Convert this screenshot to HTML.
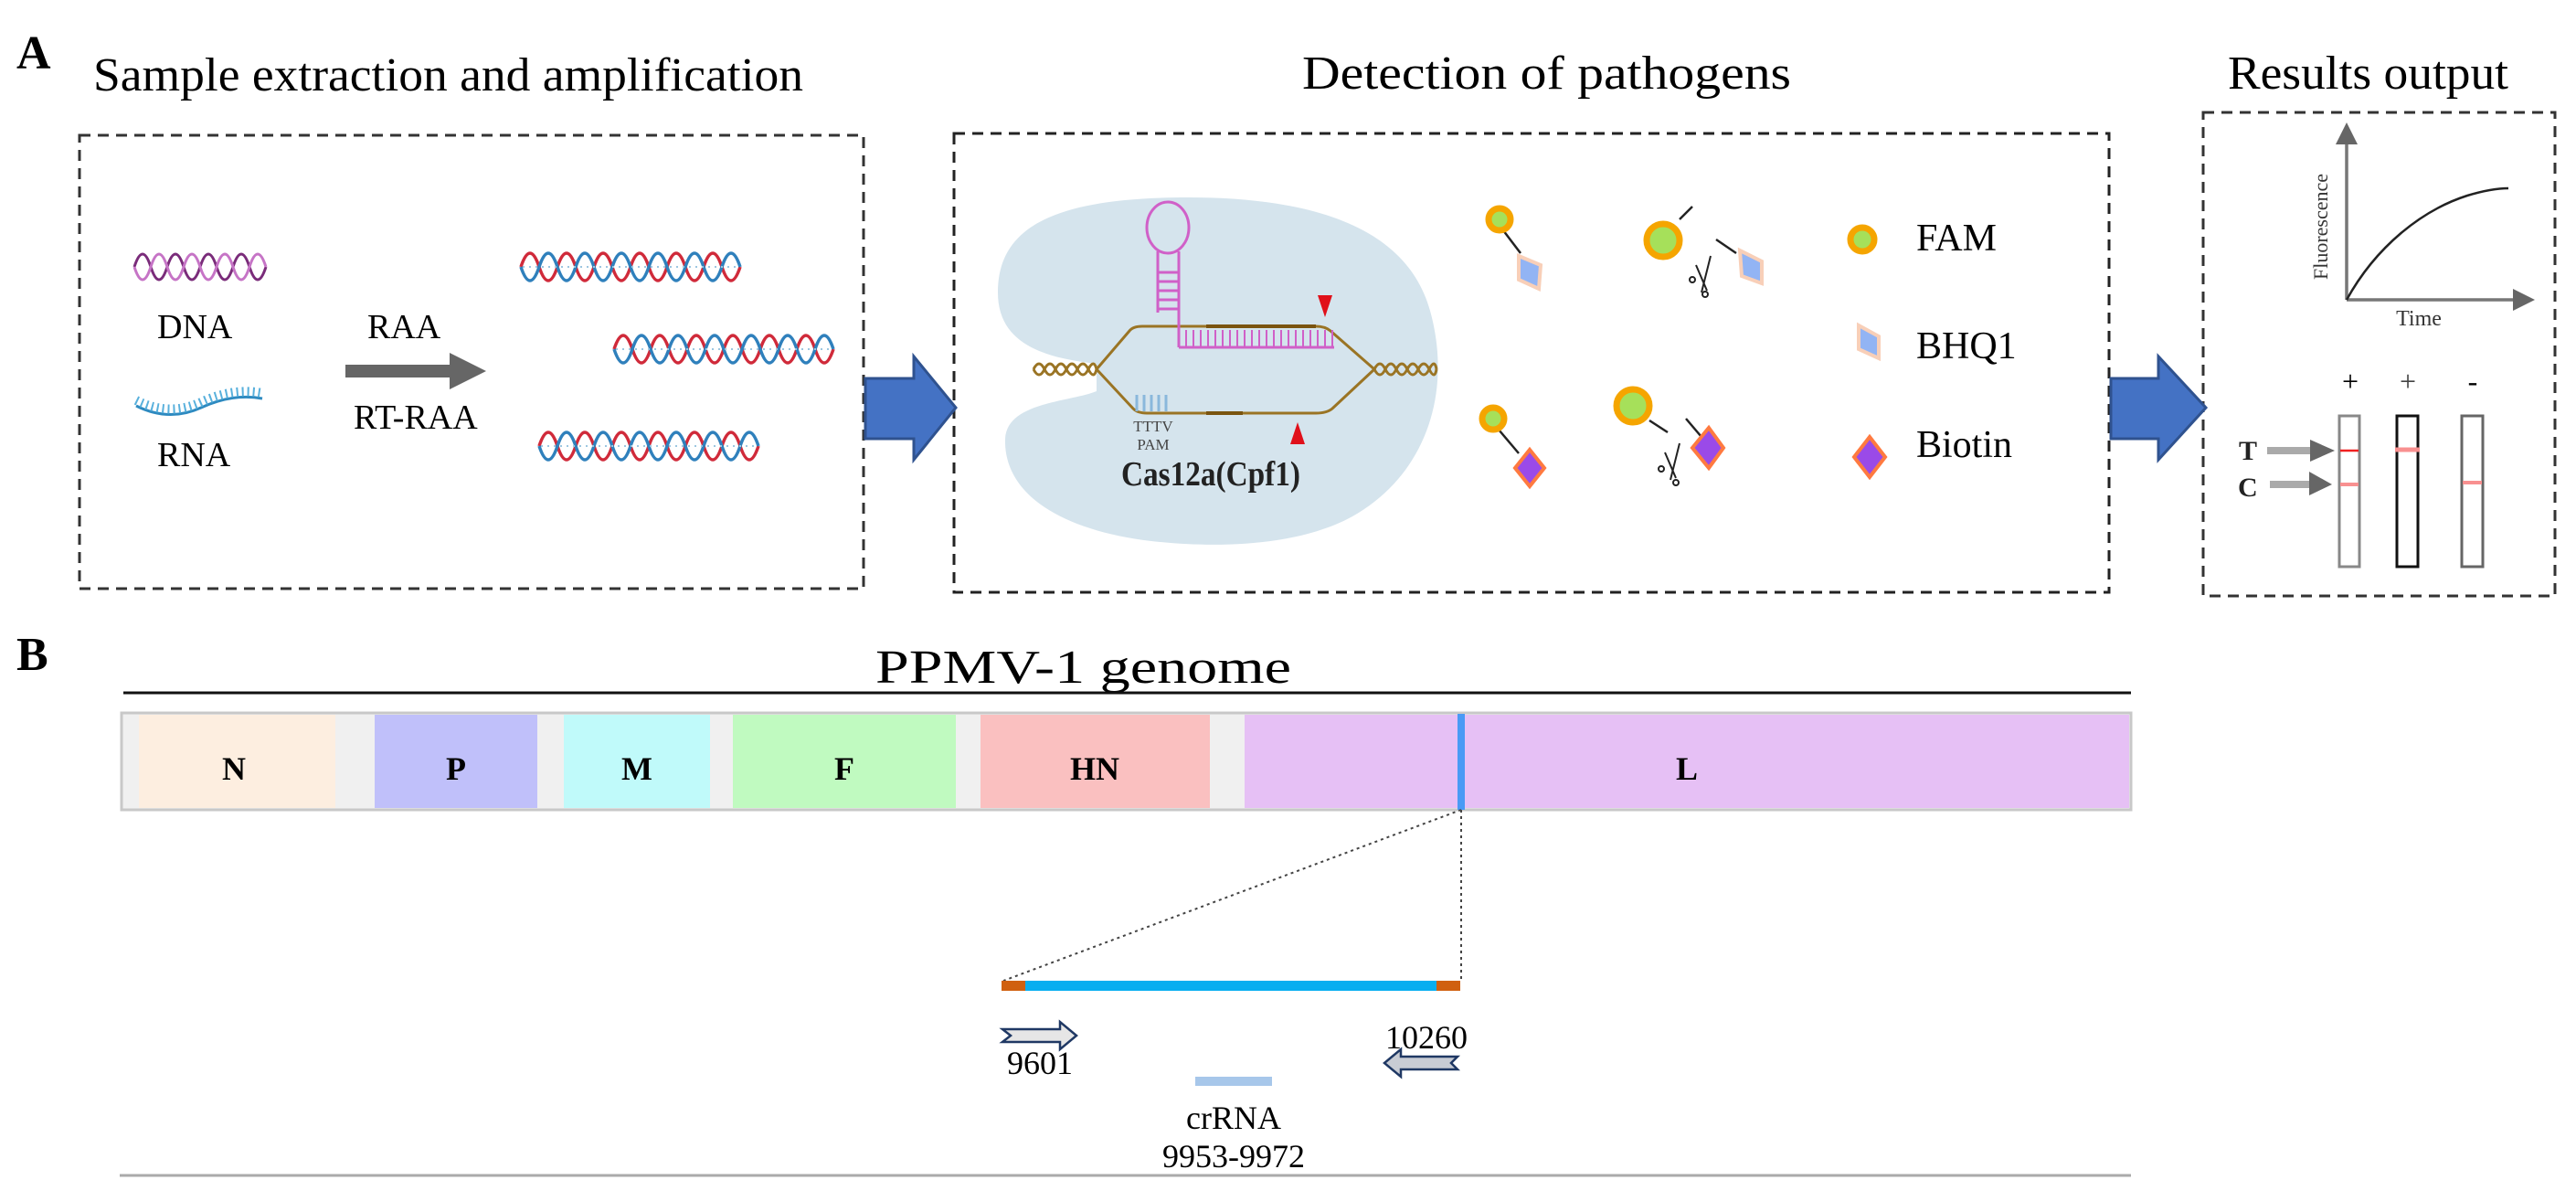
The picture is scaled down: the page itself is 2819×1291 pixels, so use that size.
<!DOCTYPE html>
<html><head><meta charset="utf-8"><style>html,body{margin:0;padding:0;background:#fff;overflow:hidden}svg{display:block}</style></head>
<body>
<svg width="2819" height="1291" viewBox="0 0 2819 1291" xmlns="http://www.w3.org/2000/svg" font-family="'Liberation Serif', serif">
<!-- Titles -->
<text x="18" y="75" font-size="52" font-weight="bold">A</text>
<text x="102" y="99" font-size="52" textLength="777" lengthAdjust="spacingAndGlyphs">Sample extraction and amplification</text>
<text x="1425" y="97" font-size="52" textLength="535" lengthAdjust="spacingAndGlyphs">Detection of pathogens</text>
<text x="2438" y="97" font-size="52" textLength="307" lengthAdjust="spacingAndGlyphs">Results output</text>

<!-- Boxes -->
<rect x="87" y="148" width="858" height="496" fill="none" stroke="#333" stroke-width="3" stroke-dasharray="12,8"/>
<rect x="1044" y="146" width="1264" height="502" fill="none" stroke="#222" stroke-width="3" stroke-dasharray="12,8"/>
<rect x="2411" y="123" width="385" height="529" fill="none" stroke="#333" stroke-width="3" stroke-dasharray="12,8"/>

<!-- Box1 content -->
<g fill="none" stroke-width="3">
  <path d="M147,292 q9,-28 18,0 t18,0 t18,0 t18,0 t18,0 t18,0 t18,0 t18,0" stroke="#7a2c7a"/>
  <path d="M147,292 q9,28 18,0 t18,0 t18,0 t18,0 t18,0 t18,0 t18,0 t18,0" stroke="#c674c6"/>
</g>
<path d="M149,444 Q185,462 220,446 T287,436" fill="none" stroke="#2e8ac0" stroke-width="3"/>
<path d="M149,438 Q185,456 220,440 T287,430" fill="none" stroke="#58b0dc" stroke-width="10" stroke-dasharray="2,4"/>
<text x="172" y="370" font-size="38">DNA</text>
<text x="172" y="510" font-size="38">RNA</text>
<text x="402" y="370" font-size="38">RAA</text>
<text x="387" y="469" font-size="38">RT-RAA</text>
<path d="M378,399 L492,399 L492,386 L532,406 L492,426 L492,413 L378,413 Z" fill="#666"/>
<g fill="none" stroke-width="3.5">
  <path d="M570,292 q10,-30 20,0 t20,0 t20,0 t20,0 t20,0 t20,0 t20,0 t20,0 t20,0 t20,0 t20,0 t20,0" stroke="#d02a3a"/>
  <path d="M570,292 q10,30 20,0 t20,0 t20,0 t20,0 t20,0 t20,0 t20,0 t20,0 t20,0 t20,0 t20,0 t20,0" stroke="#2f80bc"/>
  <path d="M672,382 q10,-30 20,0 t20,0 t20,0 t20,0 t20,0 t20,0 t20,0 t20,0 t20,0 t20,0 t20,0 t20,0" stroke="#d02a3a"/>
  <path d="M672,382 q10,30 20,0 t20,0 t20,0 t20,0 t20,0 t20,0 t20,0 t20,0 t20,0 t20,0 t20,0 t20,0" stroke="#2f80bc"/>
  <path d="M590,488 q10,-30 20,0 t20,0 t20,0 t20,0 t20,0 t20,0 t20,0 t20,0 t20,0 t20,0 t20,0 t20,0" stroke="#d02a3a"/>
  <path d="M590,488 q10,30 20,0 t20,0 t20,0 t20,0 t20,0 t20,0 t20,0 t20,0 t20,0 t20,0 t20,0 t20,0" stroke="#2f80bc"/>
</g>
<g stroke="#9cc6e0" stroke-width="2" stroke-dasharray="2,5">
  <line x1="572" y1="292" x2="808" y2="292"/><line x1="674" y1="382" x2="910" y2="382"/><line x1="592" y1="488" x2="828" y2="488"/>
</g>

<!-- Blue block arrows -->
<path d="M947,414 L1000,414 L1000,390 L1046,446 L1000,503 L1000,480 L947,480 Z" fill="#4472c4" stroke="#2f528f" stroke-width="3"/>
<path d="M2310,414 L2362,414 L2362,390 L2414,446 L2362,503 L2362,480 L2310,480 Z" fill="#4472c4" stroke="#2f528f" stroke-width="3"/>

<!-- Cas12a -->
<path d="M1200,398 C1150,392 1092,380 1092,320 C1092,250 1150,216 1300,216 C1440,216 1540,250 1565,340 C1590,430 1560,520 1480,565 C1420,598 1330,600 1260,592 C1160,580 1098,540 1100,480 C1102,440 1170,440 1200,428 Z" fill="#d5e4ed"/>
<g fill="none" stroke="#9a7424" stroke-width="3">
  <path d="M1200,404 L1236,362 Q1240,357 1250,357 L1440,357 Q1450,357 1456,362 L1504,404"/>
  <path d="M1200,404 L1240,447 Q1245,452 1255,452 L1440,452 Q1452,452 1458,447 L1504,404"/>
  <path d="M1131,404 q6,-12 12,0 t12,0 t12,0 t12,0 t12,0 t9,0"/>
  <path d="M1131,404 q6,12 12,0 t12,0 t12,0 t12,0 t12,0 t9,0"/>
  <path d="M1504,404 q6,-12 12,0 t12,0 t12,0 t12,0 t12,0 t8,0"/>
  <path d="M1504,404 q6,12 12,0 t12,0 t12,0 t12,0 t12,0 t8,0"/>
</g>
<line x1="1320" y1="357" x2="1440" y2="357" stroke="#7a5410" stroke-width="4"/>
<line x1="1320" y1="452" x2="1360" y2="452" stroke="#7a5410" stroke-width="4"/>
<g stroke="#d060c8" stroke-width="3" fill="none">
  <ellipse cx="1278" cy="249" rx="23" ry="28"/>
  <line x1="1267" y1="275" x2="1267" y2="342"/>
  <line x1="1290" y1="275" x2="1290" y2="380"/>
  <line x1="1290" y1="380" x2="1460" y2="380"/>
  <path d="M1267,298 H1290 M1267,308 H1290 M1267,318 H1290 M1267,328 H1290 M1267,338 H1290"/>
  <path d="M1298,361V380 M1306,361V380 M1314,361V380 M1322,361V380 M1330,361V380 M1338,361V380 M1346,361V380 M1354,361V380 M1362,361V380 M1370,361V380 M1378,361V380 M1386,361V380 M1394,361V380 M1402,361V380 M1410,361V380 M1418,361V380 M1426,361V380 M1434,361V380 M1442,361V380 M1450,361V380 M1458,361V380" stroke-width="2"/>
</g>
<path d="M1244,432V450 M1252,432V450 M1260,432V450 M1268,432V450 M1276,432V450" stroke="#8ab8dc" stroke-width="3"/>
<text x="1262" y="472" font-size="17" text-anchor="middle" fill="#444">TTTV</text>
<text x="1262" y="492" font-size="17" text-anchor="middle" fill="#444">PAM</text>
<path d="M1442,323 L1458,323 L1450,347 Z" fill="#e0101a"/>
<path d="M1412,486 L1428,486 L1420,462 Z" fill="#e0101a"/>
<text x="1227" y="531" font-size="38" font-weight="bold" textLength="196" lengthAdjust="spacingAndGlyphs" fill="#222">Cas12a(Cpf1)</text>

<!-- Probes -->
<g stroke="#222" stroke-width="2.5">
  <line x1="1645" y1="252" x2="1664" y2="277"/>
  <line x1="1838" y1="240" x2="1852" y2="226"/>
  <line x1="1878" y1="262" x2="1900" y2="277"/>
  <line x1="1640" y1="470" x2="1662" y2="496"/>
  <line x1="1805" y1="460" x2="1825" y2="473"/>
  <line x1="1845" y1="458" x2="1862" y2="478"/>
</g>
<g fill="#a6e05a" stroke="#f5a500" stroke-width="7">
  <circle cx="1641" cy="240" r="12"/>
  <circle cx="1820" cy="263" r="18"/>
  <circle cx="2038" cy="262" r="13"/>
  <circle cx="1634" cy="458" r="12"/>
  <circle cx="1787" cy="444" r="18"/>
</g>
<g fill="#92b4f4" stroke="#f8cfb8" stroke-width="4">
  <path d="M1662,280 L1686,290 L1684,316 L1662,306 Z"/>
  <path d="M1904,274 L1928,286 L1928,310 L1906,302 Z"/>
  <path d="M2034,356 L2056,368 L2056,392 L2034,382 Z"/>
</g>
<g fill="#9a4ae8" stroke="#ff7a40" stroke-width="4">
  <path d="M1674,492 L1690,512 L1674,532 L1658,512 Z"/>
  <path d="M1870,468 L1886,490 L1870,512 L1852,490 Z"/>
  <path d="M2046,478 L2063,500 L2046,522 L2029,500 Z"/>
</g>
<g stroke="#222" stroke-width="2" fill="none">
  <path d="M1872,280 L1862,320 M1856,290 L1868,318"/><circle cx="1852" cy="306" r="3"/><circle cx="1866" cy="322" r="3"/>
  <path d="M1838,485 L1828,525 M1822,495 L1834,523"/><circle cx="1818" cy="513" r="3"/><circle cx="1834" cy="528" r="3"/>
</g>
<text x="2097" y="274" font-size="42">FAM</text>
<text x="2097" y="392" font-size="42">BHQ1</text>
<text x="2097" y="500" font-size="42">Biotin</text>

<!-- Results -->
<g stroke="#777" stroke-width="3.5" fill="#666">
  <line x1="2568" y1="328" x2="2568" y2="150"/>
  <line x1="2568" y1="328" x2="2755" y2="328"/>
  <path d="M2556,158 L2568,134 L2580,158 Z" stroke="none"/>
  <path d="M2750,316 L2774,328 L2750,340 Z" stroke="none"/>
</g>
<path d="M2568,328 C2600,270 2650,230 2700,214 C2720,208 2735,206 2745,206" fill="none" stroke="#222" stroke-width="2.5"/>
<text transform="translate(2547,248) rotate(-90)" font-size="22" text-anchor="middle" fill="#333">Fluorescence</text>
<text x="2647" y="356" font-size="24" text-anchor="middle" fill="#333">Time</text>
<text x="2572" y="428" font-size="32" text-anchor="middle">+</text>
<text x="2635" y="428" font-size="32" text-anchor="middle" fill="#444">+</text>
<text x="2706" y="428" font-size="32" text-anchor="middle">-</text>
<g fill="none" stroke-width="3">
  <rect x="2560" y="455" width="22" height="165" stroke="#888"/>
  <rect x="2623" y="455" width="23" height="165" stroke="#111"/>
  <rect x="2694" y="455" width="23" height="165" stroke="#666"/>
</g>
<line x1="2561" y1="493" x2="2581" y2="493" stroke="#f02020" stroke-width="2.5"/>
<line x1="2561" y1="530" x2="2581" y2="530" stroke="#f89090" stroke-width="4"/>
<line x1="2621" y1="492" x2="2648" y2="492" stroke="#f89090" stroke-width="5"/>
<line x1="2695" y1="528" x2="2716" y2="528" stroke="#f89090" stroke-width="4"/>
<text x="2450" y="503" font-size="30" font-weight="bold" fill="#222">T</text>
<text x="2449" y="543" font-size="30" font-weight="bold" fill="#222">C</text>
<g fill="#666"><rect x="2481" y="489" width="50" height="8" fill="#aaa"/><path d="M2528,481 L2555,493 L2528,505 Z"/>
<rect x="2484" y="526" width="46" height="8" fill="#aaa"/><path d="M2527,516 L2552,530 L2527,542 Z"/></g>

<!-- Part B -->
<text x="18" y="733" font-size="52" font-weight="bold">B</text>
<text x="958" y="747" font-size="52" textLength="455" lengthAdjust="spacingAndGlyphs">PPMV-1 genome</text>
<line x1="135" y1="758" x2="2332" y2="758" stroke="#111" stroke-width="3"/>
<rect x="133" y="780" width="2199" height="106" fill="#f0f0f0" stroke="#c8c8c8" stroke-width="3"/>
<rect x="152" y="782" width="215" height="102" fill="#fdeee0"/>
<rect x="410" y="782" width="178" height="102" fill="#c0c0fa"/>
<rect x="617" y="782" width="160" height="102" fill="#c0fafa"/>
<rect x="802" y="782" width="244" height="102" fill="#c0fac0"/>
<rect x="1073" y="782" width="251" height="102" fill="#fac0c0"/>
<rect x="1362" y="782" width="968" height="102" fill="#e6c0f5"/>
<rect x="1595" y="781" width="8" height="105" fill="#4a9af5"/>
<g font-size="36" font-weight="bold" text-anchor="middle">
  <text x="256" y="853">N</text><text x="499" y="853">P</text><text x="697" y="853">M</text>
  <text x="924" y="853">F</text><text x="1198" y="853">HN</text><text x="1846" y="853">L</text>
</g>
<line x1="1599" y1="886" x2="1098" y2="1073" stroke="#444" stroke-width="2" stroke-dasharray="3,4"/>
<line x1="1599" y1="886" x2="1599" y2="1073" stroke="#444" stroke-width="2" stroke-dasharray="3,4"/>
<rect x="1096" y="1073" width="502" height="11" fill="#08aef0"/>
<rect x="1096" y="1073" width="26" height="11" fill="#d06010"/>
<rect x="1572" y="1073" width="26" height="11" fill="#d06010"/>
<path d="M1097,1126 L1160,1126 L1160,1118 L1178,1133 L1160,1148 L1160,1140 L1097,1140 L1106,1133 Z" fill="#e6e6e6" stroke="#1f3864" stroke-width="2.5"/>
<path d="M1595,1156 L1533,1156 L1533,1148 L1515,1163 L1533,1178 L1533,1170 L1595,1170 L1588,1163 Z" fill="#c8ccd4" stroke="#1f3864" stroke-width="2.5"/>
<text x="1138" y="1175" font-size="36" text-anchor="middle">9601</text>
<text x="1561" y="1147" font-size="36" text-anchor="middle">10260</text>
<rect x="1308" y="1178" width="84" height="10" fill="#a7c7ea"/>
<text x="1350" y="1235" font-size="36" text-anchor="middle">crRNA</text>
<text x="1350" y="1277" font-size="36" text-anchor="middle">9953-9972</text>
<line x1="131" y1="1286" x2="2332" y2="1286" stroke="#aaa" stroke-width="3"/>
</svg>
</body></html>
